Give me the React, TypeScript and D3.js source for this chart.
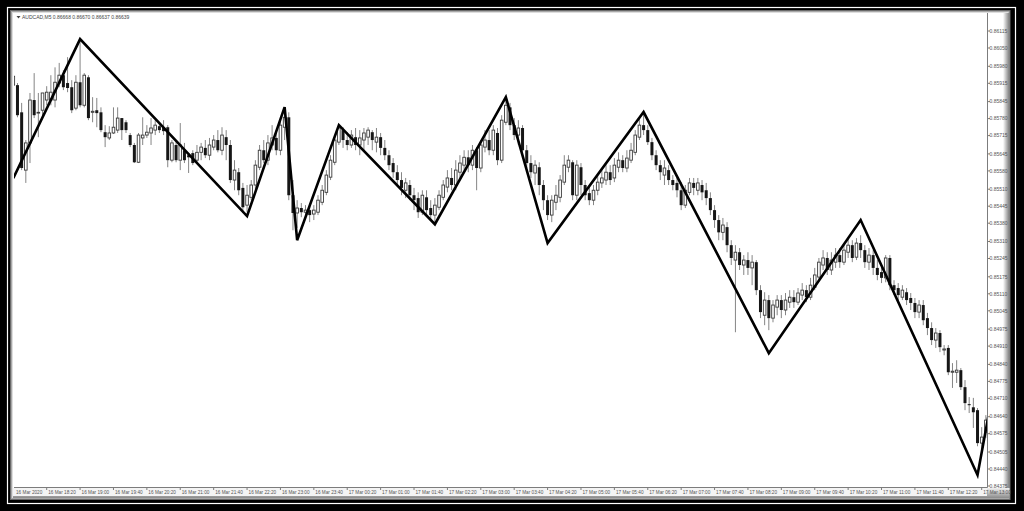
import React from 'react';
import * as d3 from 'd3';

// AUDCAD M5 candles, 16 Mar 17:40 .. 17 Mar 13:05 (one entry per 5-minute bar)
const openP = [
  0.85908, 0.85908, 0.85804, 0.85583, 0.85687, 0.85851, 0.85801, 0.85812, 0.85851, 0.85851,
  0.85851, 0.85916, 0.85946, 0.85916, 0.85900, 0.85820, 0.85919, 0.85831, 0.85938, 0.85804,
  0.85812, 0.85804, 0.85728, 0.85706, 0.85725, 0.85736, 0.85782, 0.85766, 0.85717, 0.85679,
  0.85613, 0.85706, 0.85717, 0.85725, 0.85736, 0.85751, 0.85747, 0.85747, 0.85621, 0.85679,
  0.85621, 0.85659, 0.85640, 0.85648, 0.85621, 0.85651, 0.85668, 0.85640, 0.85671, 0.85698,
  0.85659, 0.85709, 0.85679, 0.85545, 0.85575, 0.85515, 0.85449, 0.85479, 0.85526, 0.85594,
  0.85659, 0.85621, 0.85679, 0.85706, 0.85659, 0.85747, 0.85785, 0.85487, 0.85419, 0.85438,
  0.85422, 0.85430, 0.85415, 0.85422, 0.85460, 0.85498, 0.85556, 0.85613, 0.85690, 0.85736,
  0.85698, 0.85679, 0.85709, 0.85679, 0.85698, 0.85709, 0.85728, 0.85690, 0.85709, 0.85668,
  0.85640, 0.85610, 0.85575, 0.85545, 0.85506, 0.85526, 0.85487, 0.85476, 0.85422, 0.85479,
  0.85438, 0.85411, 0.85441, 0.85479, 0.85518, 0.85553, 0.85526, 0.85575, 0.85602, 0.85632,
  0.85602, 0.85659, 0.85591, 0.85671, 0.85698, 0.85659, 0.85725, 0.85621, 0.85766, 0.85823,
  0.85755, 0.85717, 0.85744, 0.85659, 0.85610, 0.85572, 0.85594, 0.85526, 0.85468, 0.85411,
  0.85460, 0.85479, 0.85537, 0.85594, 0.85613, 0.85487, 0.85594, 0.85526, 0.85495, 0.85468,
  0.85506, 0.85534, 0.85545, 0.85575, 0.85553, 0.85594, 0.85621, 0.85591, 0.85621, 0.85651,
  0.85709, 0.85755, 0.85736, 0.85690, 0.85640, 0.85602, 0.85564, 0.85583, 0.85545, 0.85534,
  0.85506, 0.85449, 0.85498, 0.85534, 0.85506, 0.85526, 0.85506, 0.85476, 0.85430, 0.85392,
  0.85345, 0.85365, 0.85296, 0.85239, 0.85269, 0.85220, 0.85239, 0.85209, 0.85231, 0.85124,
  0.85028, 0.85086, 0.85017, 0.85059, 0.85086, 0.85048, 0.85078, 0.85097, 0.85078, 0.85105,
  0.85124, 0.85097, 0.85135, 0.85174, 0.85220, 0.85247, 0.85201, 0.85231, 0.85258, 0.85231,
  0.85269, 0.85296, 0.85250, 0.85304, 0.85277, 0.85231, 0.85258, 0.85209, 0.85193, 0.85171,
  0.85247, 0.85143, 0.85132, 0.85097, 0.85116, 0.85094, 0.85075, 0.85040, 0.85067, 0.85017,
  0.84979, 0.84933, 0.84960, 0.84895, 0.84903, 0.84810, 0.84810, 0.84818, 0.84753, 0.84688,
  0.84676, 0.84665, 0.84539, 0.84581,
];
const highP = [
  0.85954, 0.85916, 0.85840, 0.85698, 0.85878, 0.85954, 0.85878, 0.85878, 0.85904, 0.85946,
  0.85976, 0.85993, 0.85965, 0.86015, 0.85927, 0.85946, 0.86076, 0.85954, 0.85946, 0.85862,
  0.85859, 0.85823, 0.85755, 0.85751, 0.85823, 0.85823, 0.85782, 0.85774, 0.85725, 0.85687,
  0.85725, 0.85785, 0.85755, 0.85782, 0.85774, 0.85766, 0.85774, 0.85755, 0.85698, 0.85698,
  0.85763, 0.85687, 0.85648, 0.85659, 0.85679, 0.85687, 0.85698, 0.85706, 0.85717, 0.85736,
  0.85747, 0.85736, 0.85698, 0.85621, 0.85591, 0.85534, 0.85526, 0.85545, 0.85621, 0.85679,
  0.85698, 0.85717, 0.85755, 0.85736, 0.85782, 0.85820, 0.85804, 0.85545, 0.85468, 0.85457,
  0.85449, 0.85449, 0.85449, 0.85487, 0.85526, 0.85583, 0.85640, 0.85717, 0.85755, 0.85747,
  0.85728, 0.85736, 0.85744, 0.85736, 0.85744, 0.85747, 0.85736, 0.85744, 0.85725, 0.85698,
  0.85659, 0.85629, 0.85602, 0.85575, 0.85553, 0.85545, 0.85515, 0.85498, 0.85506, 0.85506,
  0.85468, 0.85476, 0.85506, 0.85545, 0.85583, 0.85591, 0.85621, 0.85640, 0.85659, 0.85659,
  0.85679, 0.85671, 0.85698, 0.85736, 0.85736, 0.85755, 0.85744, 0.85793, 0.85859, 0.85840,
  0.85782, 0.85774, 0.85755, 0.85679, 0.85640, 0.85621, 0.85613, 0.85545, 0.85487, 0.85487,
  0.85526, 0.85564, 0.85640, 0.85640, 0.85621, 0.85621, 0.85610, 0.85545, 0.85526, 0.85526,
  0.85564, 0.85591, 0.85602, 0.85602, 0.85629, 0.85651, 0.85640, 0.85659, 0.85687, 0.85736,
  0.85782, 0.85801, 0.85755, 0.85706, 0.85659, 0.85621, 0.85621, 0.85602, 0.85564, 0.85553,
  0.85537, 0.85526, 0.85553, 0.85553, 0.85553, 0.85545, 0.85534, 0.85498, 0.85449, 0.85411,
  0.85400, 0.85384, 0.85315, 0.85296, 0.85285, 0.85258, 0.85269, 0.85258, 0.85239, 0.85143,
  0.85116, 0.85105, 0.85086, 0.85105, 0.85105, 0.85113, 0.85124, 0.85124, 0.85132, 0.85151,
  0.85143, 0.85171, 0.85209, 0.85247, 0.85277, 0.85269, 0.85269, 0.85285, 0.85285, 0.85304,
  0.85323, 0.85315, 0.85323, 0.85334, 0.85296, 0.85285, 0.85277, 0.85239, 0.85220, 0.85258,
  0.85258, 0.85162, 0.85151, 0.85143, 0.85132, 0.85113, 0.85094, 0.85086, 0.85086, 0.85037,
  0.85001, 0.84979, 0.84971, 0.84914, 0.84914, 0.84845, 0.84856, 0.84826, 0.84780, 0.84715,
  0.84712, 0.84673, 0.84600, 0.84646,
];
const lowP = [
  0.85889, 0.85785, 0.85583, 0.85534, 0.85610, 0.85782, 0.85709, 0.85785, 0.85831, 0.85831,
  0.85823, 0.85900, 0.85889, 0.85881, 0.85801, 0.85812, 0.85823, 0.85823, 0.85774, 0.85766,
  0.85747, 0.85728, 0.85671, 0.85698, 0.85721, 0.85725, 0.85698, 0.85725, 0.85671, 0.85610,
  0.85610, 0.85679, 0.85706, 0.85679, 0.85717, 0.85725, 0.85717, 0.85594, 0.85613, 0.85613,
  0.85583, 0.85610, 0.85572, 0.85602, 0.85613, 0.85621, 0.85629, 0.85621, 0.85659, 0.85651,
  0.85640, 0.85621, 0.85534, 0.85506, 0.85487, 0.85419, 0.85422, 0.85468, 0.85506, 0.85583,
  0.85610, 0.85602, 0.85659, 0.85640, 0.85640, 0.85698, 0.85468, 0.85353, 0.85362, 0.85403,
  0.85392, 0.85384, 0.85392, 0.85411, 0.85449, 0.85487, 0.85545, 0.85602, 0.85679, 0.85668,
  0.85659, 0.85668, 0.85659, 0.85640, 0.85659, 0.85679, 0.85659, 0.85651, 0.85640, 0.85621,
  0.85583, 0.85553, 0.85526, 0.85487, 0.85476, 0.85468, 0.85430, 0.85400, 0.85411, 0.85411,
  0.85392, 0.85384, 0.85430, 0.85468, 0.85498, 0.85506, 0.85506, 0.85553, 0.85583, 0.85575,
  0.85583, 0.85506, 0.85575, 0.85651, 0.85640, 0.85640, 0.85602, 0.85610, 0.85755, 0.85736,
  0.85698, 0.85679, 0.85640, 0.85591, 0.85553, 0.85526, 0.85487, 0.85430, 0.85392, 0.85384,
  0.85430, 0.85460, 0.85526, 0.85575, 0.85468, 0.85468, 0.85487, 0.85468, 0.85449, 0.85449,
  0.85487, 0.85515, 0.85526, 0.85526, 0.85537, 0.85575, 0.85575, 0.85575, 0.85610, 0.85640,
  0.85698, 0.85717, 0.85679, 0.85621, 0.85583, 0.85545, 0.85526, 0.85526, 0.85506, 0.85479,
  0.85430, 0.85438, 0.85487, 0.85487, 0.85487, 0.85468, 0.85449, 0.85411, 0.85362, 0.85315,
  0.85315, 0.85269, 0.85220, 0.84963, 0.85201, 0.85182, 0.85182, 0.85143, 0.85105, 0.85017,
  0.84990, 0.84971, 0.85001, 0.85028, 0.85017, 0.85028, 0.85056, 0.85056, 0.85067, 0.85086,
  0.85078, 0.85086, 0.85124, 0.85162, 0.85201, 0.85182, 0.85182, 0.85209, 0.85209, 0.85220,
  0.85247, 0.85231, 0.85239, 0.85247, 0.85209, 0.85201, 0.85182, 0.85162, 0.85151, 0.85154,
  0.85124, 0.85105, 0.85086, 0.85086, 0.85067, 0.85048, 0.85017, 0.85017, 0.84990, 0.84952,
  0.84914, 0.84903, 0.84887, 0.84875, 0.84799, 0.84750, 0.84769, 0.84742, 0.84665, 0.84654,
  0.84597, 0.84527, 0.84512, 0.84559,
];
const closeP = [
  0.85942, 0.85793, 0.85591, 0.85687, 0.85851, 0.85793, 0.85804, 0.85878, 0.85881, 0.85881,
  0.85919, 0.85946, 0.85900, 0.85897, 0.85812, 0.85919, 0.85831, 0.85946, 0.85782, 0.85808,
  0.85801, 0.85736, 0.85709, 0.85725, 0.85747, 0.85782, 0.85736, 0.85736, 0.85679, 0.85613,
  0.85717, 0.85717, 0.85728, 0.85744, 0.85755, 0.85736, 0.85732, 0.85621, 0.85687, 0.85621,
  0.85679, 0.85621, 0.85632, 0.85610, 0.85651, 0.85671, 0.85640, 0.85679, 0.85698, 0.85659,
  0.85717, 0.85679, 0.85545, 0.85583, 0.85506, 0.85441, 0.85487, 0.85526, 0.85602, 0.85659,
  0.85621, 0.85687, 0.85706, 0.85659, 0.85755, 0.85785, 0.85487, 0.85419, 0.85438, 0.85422,
  0.85430, 0.85411, 0.85430, 0.85468, 0.85506, 0.85564, 0.85621, 0.85698, 0.85744, 0.85698,
  0.85679, 0.85717, 0.85679, 0.85706, 0.85725, 0.85736, 0.85698, 0.85709, 0.85668, 0.85640,
  0.85602, 0.85575, 0.85545, 0.85515, 0.85534, 0.85487, 0.85468, 0.85422, 0.85487, 0.85430,
  0.85411, 0.85449, 0.85487, 0.85526, 0.85553, 0.85526, 0.85583, 0.85610, 0.85632, 0.85602,
  0.85659, 0.85591, 0.85679, 0.85698, 0.85659, 0.85736, 0.85621, 0.85774, 0.85831, 0.85755,
  0.85717, 0.85744, 0.85659, 0.85610, 0.85575, 0.85602, 0.85526, 0.85468, 0.85411, 0.85468,
  0.85487, 0.85545, 0.85602, 0.85621, 0.85487, 0.85602, 0.85526, 0.85487, 0.85468, 0.85506,
  0.85537, 0.85553, 0.85575, 0.85545, 0.85602, 0.85621, 0.85591, 0.85629, 0.85659, 0.85717,
  0.85755, 0.85736, 0.85690, 0.85640, 0.85602, 0.85575, 0.85591, 0.85545, 0.85526, 0.85506,
  0.85449, 0.85506, 0.85534, 0.85515, 0.85534, 0.85498, 0.85476, 0.85430, 0.85392, 0.85345,
  0.85373, 0.85296, 0.85247, 0.85269, 0.85220, 0.85239, 0.85209, 0.85231, 0.85124, 0.85040,
  0.85086, 0.85017, 0.85067, 0.85086, 0.85048, 0.85086, 0.85097, 0.85078, 0.85113, 0.85124,
  0.85097, 0.85143, 0.85182, 0.85231, 0.85247, 0.85201, 0.85239, 0.85258, 0.85231, 0.85277,
  0.85296, 0.85247, 0.85304, 0.85277, 0.85231, 0.85258, 0.85209, 0.85182, 0.85171, 0.85247,
  0.85143, 0.85124, 0.85105, 0.85124, 0.85086, 0.85075, 0.85040, 0.85067, 0.85009, 0.84979,
  0.84933, 0.84960, 0.84906, 0.84899, 0.84810, 0.84814, 0.84818, 0.84753, 0.84692, 0.84684,
  0.84657, 0.84539, 0.84562, 0.84627,
];

// zigzag overlay: bar index and price of each turning point
const zigIndex = [0, 16, 56, 65, 68, 78, 101, 118, 128, 151, 181, 203, 231, 234];
const zigPrice = [
  0.85552, 0.86084, 0.85407, 0.85824, 0.85315, 0.85755, 0.85376, 0.85862, 0.85304, 0.85805,
  0.84883, 0.85392, 0.84417, 0.84677,
];

const priceLabels = [
  '0.86115', '0.86050', '0.85980', '0.85915', '0.85845', '0.85780', '0.85715', '0.85645',
  '0.85580', '0.85510', '0.85445', '0.85380', '0.85310', '0.85245', '0.85175', '0.85110',
  '0.85045', '0.84975', '0.84910', '0.84840', '0.84775', '0.84710', '0.84640', '0.84575',
  '0.84505', '0.84440', '0.84375',
];

// one time label every 8 bars
const timeLabels = [
  '16 Mar 2020', '16 Mar 18:20', '16 Mar 19:00', '16 Mar 19:40', '16 Mar 20:20',
  '16 Mar 21:00', '16 Mar 21:40', '16 Mar 22:20', '16 Mar 23:00', '16 Mar 23:40',
  '17 Mar 00:20', '17 Mar 01:00', '17 Mar 01:40', '17 Mar 02:20', '17 Mar 03:00',
  '17 Mar 03:40', '17 Mar 04:20', '17 Mar 05:00', '17 Mar 05:40', '17 Mar 06:20',
  '17 Mar 07:00', '17 Mar 07:40', '17 Mar 08:20', '17 Mar 09:00', '17 Mar 09:40',
  '17 Mar 10:20', '17 Mar 11:00', '17 Mar 11:40', '17 Mar 12:20', '17 Mar 13:00',
];

const title = 'AUDCAD,M5  0.86668 0.86670 0.86637 0.86639';

export default function App() {
  const W = 1024;
  const H = 511;
  const plot = { left: 14, right: 987, top: 13, bottom: 487 };

  const x = d3.scaleLinear().domain([0, 232]).range([13.3, 981.7]);
  const y = d3.scaleLinear().domain([0.84375, 0.86115]).range([486, 31]);

  const zig = d3
    .line<number>()
    .x((d) => x(d))
    .y((_, i) => y(zigPrice[i]))(zigIndex);

  const font = '"Liberation Sans", Arial, sans-serif';

  return (
    <div style={{ position: 'fixed', left: 0, top: 0, width: W, height: H }}>
      <svg width={W} height={H} style={{ display: 'block' }}>
        <defs>
          <clipPath id="plotClip">
            <rect x={plot.left} y={plot.top} width={plot.right - plot.left} height={plot.bottom - plot.top} />
          </clipPath>
          <linearGradient id="rightShade" x1="0" x2="1" y1="0" y2="0">
            <stop offset="0" stopColor="#ffffff" />
            <stop offset="1" stopColor="#7a7a7a" />
          </linearGradient>
          <linearGradient id="bottomShade" x1="0" x2="0" y1="0" y2="1">
            <stop offset="0" stopColor="#f2f2f2" />
            <stop offset="1" stopColor="#8a8a8a" />
          </linearGradient>
        </defs>

        <rect x={0} y={0} width={W} height={H} fill="#000" />
        <rect x={7.5} y={7.5} width={1008} height={496} fill="none" stroke="#fff" strokeWidth={1.2} />

        {/* window with bevelled edge */}
        <rect x={10} y={10} width={1000.5} height={490} fill="#6a6a6a" />
        <rect x={11} y={11} width={998.5} height={488} fill="#a8a8a8" />
        <rect x={12} y={12} width={996.5} height={486} fill="#dedede" />
        <rect x={13} y={13} width={994.5} height={484} fill="#fff" />
        <rect x={1003} y={13} width={6.5} height={484} fill="url(#rightShade)" />
        <rect x={13} y={488} width={996.5} height={10} fill="url(#bottomShade)" />
        <rect x={13} y={488} width={974} height={8} fill="#f4f4f4" />

        <rect x={plot.left} y={plot.top} width={plot.right - plot.left} height={plot.bottom - plot.top} fill="#fff" />

        {/* candles */}
        <g clipPath="url(#plotClip)">
          {closeP.map((c, i) => {
            const o = openP[i];
            const cx = x(i);
            const top = y(Math.max(o, c));
            const bot = y(Math.min(o, c));
            const bull = c >= o;
            return (
              <g key={i}>
                <line x1={cx} x2={cx} y1={y(highP[i])} y2={y(lowP[i])} stroke="#858585" strokeWidth={1} />
                {bull ? (
                  <rect x={cx - 1.3} y={top} width={2.6} height={Math.max(bot - top, 0.6)} fill="#fff" stroke="#3a3a3a" strokeWidth={0.9} />
                ) : (
                  <rect x={cx - 1.5} y={top} width={3} height={Math.max(bot - top, 1)} fill="#161616" />
                )}
              </g>
            );
          })}
          <path d={zig || ''} fill="none" stroke="#000" strokeWidth={2.6} strokeLinejoin="miter" />
        </g>

        {/* axes */}
        <line x1={plot.right + 0.5} x2={plot.right + 0.5} y1={plot.top} y2={plot.bottom + 0.5} stroke="#7c7c7c" />
        <line x1={plot.left} x2={plot.right + 0.5} y1={plot.bottom + 0.5} y2={plot.bottom + 0.5} stroke="#7c7c7c" />

        {priceLabels.map((s) => {
          const py = y(parseFloat(s));
          return (
            <g key={s}>
              <line x1={plot.right} x2={plot.right + 3} y1={py} y2={py} stroke="#7c7c7c" />
              <text x={989.5} y={py} dy="0.35em" fontSize={5} fontFamily={font} fill="#555">
                {s}
              </text>
            </g>
          );
        })}

        {timeLabels.map((s, k) => {
          const tx = k === 0 ? plot.left + 0.5 : x(k * 8);
          return (
            <g key={s}>
              {k > 0 && <line x1={tx} x2={tx} y1={plot.bottom} y2={plot.bottom + 3} stroke="#7c7c7c" />}
              <text x={tx + 1.5} y={494} fontSize={4.7} fontFamily={font} fill="#555">
                {s}
              </text>
            </g>
          );
        })}

        {/* window title */}
        <path d="M16.5,16 L20.5,16 L18.5,18.5 Z" fill="#444" />
        <text x={22} y={19} fontSize={5} fontFamily={font} fill="#444">
          {title}
        </text>
      </svg>
    </div>
  );
}
